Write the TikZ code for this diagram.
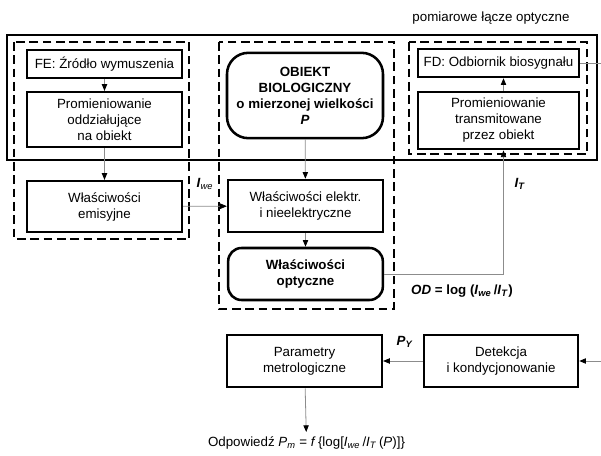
\documentclass[tikz,border=0pt]{standalone}
\usepackage{fontspec}
\setmainfont{Liberation Sans}
\usetikzlibrary{arrows.meta,positioning,shapes}

\begin{document}
\begin{tikzpicture}[x=0.75pt,y=-0.75pt,
    font=\fontsize{10}{12}\selectfont,
    blok/.style={rectangle, draw, line width=1.9pt, align=center, minimum width=116pt, inner sep=2pt},
    grupa/.style={draw, line width=1.6pt, dash pattern=on 6.5pt off 3.5pt},
    strz/.style={draw=black!45, line width=0.6pt, -{Triangle[length=5pt,width=4pt,color=black]}},
    linia/.style={draw=black!45, line width=0.6pt}]
  \useasboundingbox (0,0) rectangle (601,456);
  \node (lacze) at (491,18) {pomiarowe łącze optyczne};
  \draw[line width=0.9pt] (7,35) rectangle (597,160);
  \draw[grupa] (14,42) rectangle (189,239);
  \draw[grupa] (219,42) rectangle (394,309);
  \draw[grupa] (409,42) rectangle (587,154);

  \node[blok, minimum height=21pt] (fe) at (104.5,64) {FE: Źródło wymuszenia};
  \node[blok, minimum height=41pt] (rad) at (104.5,119.5) {Promieniowanie\\oddziałujące\\na obiekt};
  \node[blok, minimum height=38pt] (emis) at (104.5,206.5) {Właściwości\\emisyjne};

  \node[blok, rounded corners=16pt, minimum width=117pt, minimum height=64pt, font=\fontsize{10}{12}\selectfont\bfseries] (obj) at (305,95.5) {OBIEKT\\BIOLOGICZNY\\o mierzonej wielkości\\\textit{P}};
  \node[blok, minimum height=39pt] (elec) at (305.5,206) {Właściwości elektr.\\i nieelektryczne};
  \node[blok, rounded corners=10pt, minimum height=39pt, font=\fontsize{10}{12}\selectfont\bfseries] (opt) at (305.5,274) {Właściwości\\optyczne};

  \node[blok, minimum width=121pt, minimum height=21pt] (fd) at (498.5,63) {FD: Odbiornik biosygnału};
  \node[blok, minimum width=121pt, minimum height=43pt] (trans) at (498.5,120.5) {Promieniowanie\\transmitowane\\przez obiekt};

  \node[blok, minimum height=39pt] (par) at (304.5,361) {Parametry\\metrologiczne};
  \node[blok, minimum width=115.5pt, minimum height=39pt] (det) at (501,361) {Detekcja\\i kondycjonowanie};
  \node (odp) at (306.5,443) {Odpowiedź \textit{P}\textsubscript{\textit{m}} = \textit{f}\,\{log[\textit{I}\textsubscript{\textit{we}}\,/\textit{I}\textsubscript{\textit{T}}\,(\textit{P})]\}};

  \node (iwe) at (205,184) {\textbf{\textit{I}}\textsubscript{\textit{we}}};
  \node (it) at (520,184) {\textbf{\textit{I}}\textsubscript{\textbf{\textit{T}}}};
  \node (py) at (405,342) {\textbf{\textit{P}}\textsubscript{\textbf{\textit{Y}}}};
  \node (od) at (462,291) {\textbf{\textit{OD} = log (\textit{I}\textsubscript{\textit{we}}\,/\textit{I}\textsubscript{\textit{T}})}};

  \coordinate (fdout) at (601,63);
  \coordinate (detin) at (601,361);

  \draw[strz] (fe) -- (rad);
  \draw[strz] (rad) -- (emis);
  \draw[strz] (emis) -- (elec);
  \draw[strz] (obj) -- (elec);
  \draw[strz] (elec) -- (opt);
  \draw[strz] (opt.east) -| ([xshift=3.75pt]trans.south);
  \draw[strz] ([xshift=3.75pt]trans.north) -- ([xshift=3.75pt]fd.south);
  \draw[linia] (fd.east) -- (fdout);
  \draw[strz] (detin) -- (det);
  \draw[strz] (det) -- (par);
  \draw[strz] (par) -- (odp);
\end{tikzpicture}
\end{document}
